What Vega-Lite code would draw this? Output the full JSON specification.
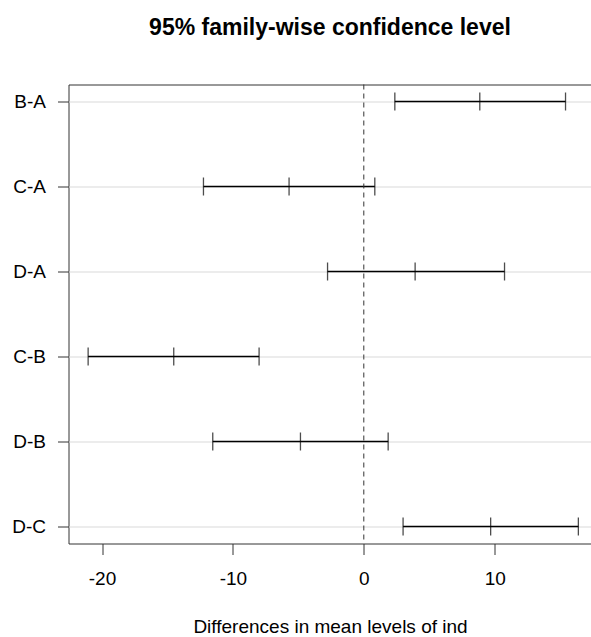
{
  "$schema": "https://vega.github.io/schema/vega-lite/v6.json",
  "autosize": {"type": "none"},
  "padding": {"left": 68.5, "top": 84.5, "right": 0, "bottom": 93.5},
  "width": 523,
  "height": 459,
  "background": "white",
  "title": {
    "text": "95% family-wise confidence level",
    "font": "Liberation Sans",
    "fontSize": 23,
    "fontWeight": "bold",
    "color": "black",
    "anchor": "middle",
    "frame": "group",
    "baseline": "alphabetic",
    "offset": 26.5
  },
  "config": {
    "view": {"stroke": "#333333", "strokeWidth": 1},
    "axis": {
      "labelFont": "Liberation Sans",
      "titleFont": "Liberation Sans",
      "labelColor": "black",
      "titleColor": "black",
      "tickColor": "#333333",
      "tickWidth": 1,
      "domain": false
    }
  },
  "data": {
    "values": [
      {"comparison": "B-A", "lwr": 2.37, "diff": 8.86, "upr": 15.41},
      {"comparison": "C-A", "lwr": -12.25, "diff": -5.71, "upr": 0.84},
      {"comparison": "D-A", "lwr": -2.77, "diff": 3.92, "upr": 10.75},
      {"comparison": "C-B", "lwr": -21.06, "diff": -14.52, "upr": -8.0},
      {"comparison": "D-B", "lwr": -11.54, "diff": -4.84, "upr": 1.86},
      {"comparison": "D-C", "lwr": 3.0, "diff": 9.69, "upr": 16.39}
    ]
  },
  "encoding": {
    "y": {
      "field": "comparison",
      "type": "nominal",
      "sort": ["B-A", "C-A", "D-A", "C-B", "D-B", "D-C"],
      "scale": {"type": "point", "padding": 0.2},
      "axis": {
        "title": null,
        "grid": true,
        "gridColor": "#d9d9d9",
        "gridWidth": 1,
        "tickSize": 11,
        "labelPadding": 12,
        "labelFontSize": 19,
        "labelBaseline": "middle"
      }
    }
  },
  "layer": [
    {
      "mark": {"type": "rule", "color": "black", "strokeWidth": 1.3},
      "encoding": {
        "x": {
          "field": "lwr",
          "type": "quantitative",
          "scale": {"domain": [-22.56, 17.394], "nice": false, "zero": false},
          "axis": {
            "title": "Differences in mean levels of ind",
            "values": [-20, -10, 0, 10],
            "labelExpr": "datum.value + ''",
            "grid": false,
            "tickSize": 11,
            "labelFontSize": 19,
            "labelBaseline": "alphabetic",
            "labelPadding": 30,
            "titleFontSize": 19,
            "titleFontWeight": "normal",
            "titleBaseline": "alphabetic",
            "titleY": 89
          }
        },
        "x2": {"field": "upr"}
      }
    },
    {
      "mark": {"type": "tick", "color": "black", "size": 18, "thickness": 1.3},
      "encoding": {"x": {"field": "lwr", "type": "quantitative"}}
    },
    {
      "mark": {"type": "tick", "color": "black", "size": 18, "thickness": 1.3},
      "encoding": {"x": {"field": "diff", "type": "quantitative"}}
    },
    {
      "mark": {"type": "tick", "color": "black", "size": 18, "thickness": 1.3},
      "encoding": {"x": {"field": "upr", "type": "quantitative"}}
    },
    {
      "data": {"values": [{"ref": 0}]},
      "mark": {"type": "rule", "color": "#333333", "strokeWidth": 1, "strokeDash": [5, 4]},
      "encoding": {"x": {"field": "ref", "type": "quantitative"}, "y": null}
    }
  ]
}
